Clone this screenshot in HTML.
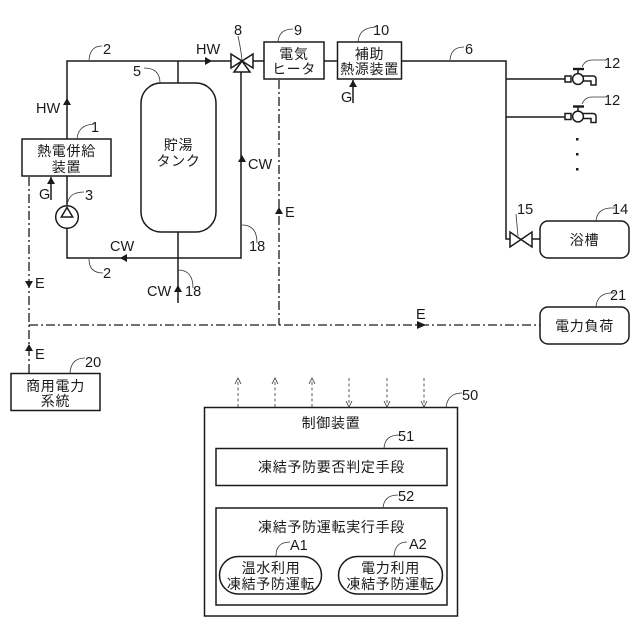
<!DOCTYPE html>
<html><head><meta charset="utf-8"><style>
html,body{margin:0;padding:0;background:#fff}
svg{display:block}
text{font-family:"Liberation Sans","Noto Sans CJK JP",sans-serif;fill:#1a1a1a}
.j{font-size:14px;text-anchor:middle;letter-spacing:.7px}
.n{font-size:14.5px}
.s{fill:none;stroke:#1a1a1a;stroke-width:1.5}
.b{fill:#fff;stroke:#1a1a1a;stroke-width:1.5}
.h{fill:none;stroke:#1a1a1a;stroke-width:2.4}
.l{fill:none;stroke:#333;stroke-width:.8}
.e{fill:none;stroke:#1a1a1a;stroke-width:1.3;stroke-dasharray:9 3 2 3}
.d{fill:none;stroke:#333;stroke-width:.8;stroke-dasharray:3 2.5}
.a{fill:#1a1a1a;stroke:none}
</style></head><body>
<svg width="640" height="640" viewBox="0 0 640 640" xmlns="http://www.w3.org/2000/svg">
<!-- pipes -->
<path class="s" d="M67 139V61H231M253 61H264M178 61V83M67 176V206M67 228V258H241V72M178 232V303M324 61H338M401 61H506V239H510M506 79H565M506 117H565M532 239H540"/>
<!-- E lines -->
<path class="e" d="M29 177V373M29 325H540M279 80V325"/>
<path class="s" d="M51 200V177"/>
<path class="s" d="M353 103V80"/>
<!-- arrowheads -->
<path class="a" d="M212 61l-7-4v8zM67 98l-4 7h8zM242 155l-4 7h8zM120 258l7-4v8zM178 285l-4 7h8zM51 177l-4 7h8zM353 80l-4 7h8zM29 288l-4-7h8zM279 207l-4 7h8zM29 344l-4 7h8zM426 325l-9-4v8z"/>
<!-- boxes -->
<rect class="b" x="22" y="139" width="89" height="37"/>
<rect class="b" x="141" y="83" width="75" height="149" rx="20"/>
<rect class="b" x="264" y="42" width="60" height="37"/>
<rect class="b" x="337.500" y="42" width="64" height="37"/>
<rect class="b" x="540" y="221" width="89" height="37" rx="8"/>
<rect class="b" x="540" y="307" width="89" height="37" rx="8"/>
<rect class="b" x="11" y="373.500" width="89" height="37"/>
<rect class="b" x="204.500" y="407.500" width="253" height="208.500"/>
<rect class="b" x="216" y="448.500" width="231" height="37"/>
<rect class="b" x="216" y="508" width="231" height="97"/>
<rect class="b" x="219.500" y="556.500" width="102" height="37.500" rx="18.700"/>
<rect class="b" x="338.500" y="556.500" width="104" height="37.500" rx="18.700"/>
<!-- pump -->
<circle class="b" cx="67" cy="217" r="11.300"/>
<path class="s" d="M67 207.500l-5.700 9.500h11.400z"/>
<!-- valves -->
<path class="b" d="M231 54L253 68V54L231 68Z"/>
<path class="b" d="M242 61L234 72H250Z"/>
<path class="b" d="M510 232L532 247V232L510 247Z"/>
<!-- faucets -->
<g>
<path class="b" d="M565 76h6v6h-6zM582 76h11q3 0 3 3v6h-5v-4h-9z"/>
<circle class="b" cx="578" cy="79" r="5.400"/>
<path class="s" d="M578 74V69"/>
<path class="h" d="M573 69h11"/>
</g>
<g transform="translate(0,37.500)">
<path class="b" d="M565 76h6v6h-6zM582 76h11q3 0 3 3v6h-5v-4h-9z"/>
<circle class="b" cx="578" cy="79" r="5.400"/>
<path class="s" d="M578 74V69"/>
<path class="h" d="M573 69h11"/>
</g>
<path class="a" d="M576 138h2.500v2.500h-2.500zM576 153h2.500v2.500h-2.500zM576 168h2.500v2.500h-2.500z"/>
<!-- leader lines -->
<path class="l" d="M89 60q1-14 13-14M77 139q1-14 17-15M67 206q1-14 17-14M160 83q0-15-16-15M242 60q-1-10-4-24M278 42q1-13 15-13M358 42q1-14 17-15M450 60q1-13 14-13M582 67q3-7 10-7h13M582 104q3-7 10-7h13M518 236l-2-22M596 221q1-12 14-13h5M596 307q1-13 14-14h5M242 225q15 0 15 18M178 270q15 0 15 18M89 259q0 14 14 14M70 373q1-15 15-15M446 407q2-14 16-14M384 448q1-13 15-13M383 508q1-13 15-13M276 556q0-14 14-14M394 556q1-14 13-14"/>
<!-- dashed control -->
<path class="d" d="M238 407V381M275 407V381M312 407V381M349 378V404M387 378V404M424 378V404"/>
<path class="l" d="M235 384l3-6 3 6M272 384l3-6 3 6M309 384l3-6 3 6M346 401l3 6 3-6M384 401l3 6 3-6M421 401l3 6 3-6"/>
<!-- Japanese labels -->
<text class="j" x="66.500" y="156">熱電併給</text>
<text class="j" x="66.500" y="172">装置</text>
<text class="j" x="178.500" y="150">貯湯</text>
<text class="j" x="178.500" y="166">タンク</text>
<text class="j" x="294" y="59">電気</text>
<text class="j" x="294" y="74">ヒータ</text>
<text class="j" x="369.500" y="59">補助</text>
<text class="j" x="369.500" y="74">熱源装置</text>
<text class="j" x="584.500" y="245">浴槽</text>
<text class="j" x="584.500" y="331">電力負荷</text>
<text class="j" x="55.500" y="391">商用電力</text>
<text class="j" x="55.500" y="406">系統</text>
<text class="j" x="331" y="428">制御装置</text>
<text class="j" x="331.500" y="472">凍結予防要否判定手段</text>
<text class="j" x="331.500" y="532">凍結予防運転実行手段</text>
<text class="j" x="271" y="573">温水利用</text>
<text class="j" x="271" y="589">凍結予防運転</text>
<text class="j" x="390.500" y="573">電力利用</text>
<text class="j" x="390.500" y="589">凍結予防運転</text>
<!-- Latin labels -->
<g class="n">
<text x="36" y="113">HW</text>
<text x="196" y="54">HW</text>
<text x="248" y="169">CW</text>
<text x="110" y="251">CW</text>
<text x="147" y="296">CW</text>
<text x="39" y="199">G</text>
<text x="341" y="102">G</text>
<text x="285" y="217">E</text>
<text x="35" y="288">E</text>
<text x="35" y="359">E</text>
<text x="416" y="319">E</text>
<text x="103" y="54">2</text>
<text x="103" y="278">2</text>
<text x="91" y="132">1</text>
<text x="85" y="200">3</text>
<text x="133" y="76">5</text>
<text x="234" y="35">8</text>
<text x="294" y="35">9</text>
<text x="373" y="35">10</text>
<text x="465" y="54">6</text>
<text x="604" y="68">12</text>
<text x="604" y="105">12</text>
<text x="517" y="214">15</text>
<text x="612" y="214">14</text>
<text x="610" y="300">21</text>
<text x="249" y="251">18</text>
<text x="185" y="296">18</text>
<text x="85" y="367">20</text>
<text x="462" y="400">50</text>
<text x="398" y="441">51</text>
<text x="398" y="501">52</text>
<text x="290" y="550">A1</text>
<text x="409" y="549">A2</text>
</g>
</svg>
</body></html>
